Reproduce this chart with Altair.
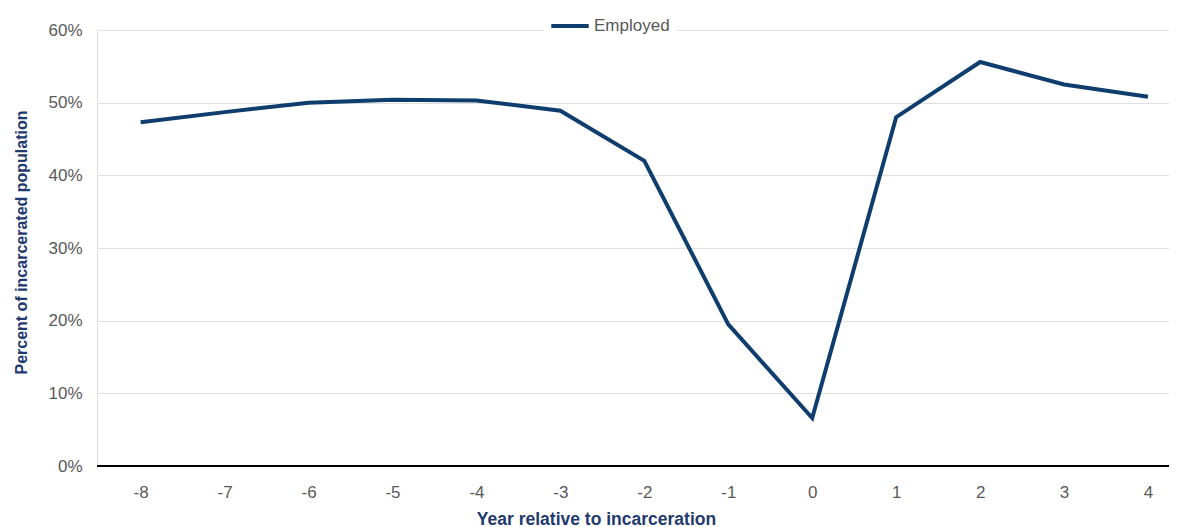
import altair as alt
import pandas as pd

years = [-8, -7, -6, -5, -4, -3, -2, -1, 0, 1, 2, 3, 4]
employed = [47.3, 48.7, 50.0, 50.4, 50.3, 48.9, 42.0, 19.5, 6.6, 48.0, 55.6, 52.5, 50.8]
series_name = "Employed"

df = pd.DataFrame({"year": years, "value": [v / 100 for v in employed], "series": series_name})

FONT = "Liberation Sans"
LINE = "#0f3d6e"
TITLE = "#1f3a6e"
GREY = "#595959"

line = alt.Chart(df).mark_line(strokeWidth=4, strokeJoin="miter", strokeCap="butt").encode(
    x=alt.X("year:Q",
            scale=alt.Scale(domain=[-8.52, 4.25], nice=False, zero=False),
            axis=alt.Axis(values=years, labelExpr="toString(datum.value)",
                          title="Year relative to incarceration",
                          grid=False, ticks=False, domain=False, labelPadding=18,
                          labelFontSize=17, labelColor=GREY, labelFont=FONT,
                          titleFont=FONT, titleFontSize=17.5, titleColor=TITLE,
                          titleFontWeight="bold", titleX=499, titleY=58,
                          titleBaseline="alphabetic", titleAlign="center")),
    y=alt.Y("value:Q",
            scale=alt.Scale(domain=[0, 0.6], nice=False),
            axis=alt.Axis(values=[0, 0.1, 0.2, 0.3, 0.4, 0.5, 0.6], format=".0%",
                          title="Percent of incarcerated population",
                          grid=True, gridColor="#e0e0e0", gridWidth=1,
                          ticks=False, domain=False, labelPadding=15,
                          labelFontSize=17, labelColor=GREY, labelFont=FONT,
                          titleFont=FONT, titleFontSize=16, titleColor=TITLE,
                          titleFontWeight="bold", titlePadding=18, titleY=212)),
    color=alt.Color("series:N", scale=alt.Scale(domain=[series_name], range=[LINE]),
                    legend=alt.Legend(title=None, orient="none", legendX=446, legendY=-31,
                                      symbolType="stroke", symbolStrokeWidth=4,
                                      symbolSize=1400, labelFontSize=17, labelFont=FONT,
                                      labelColor=GREY, fillColor="white", padding=6,
                                      labelOffset=3)),
)

zero = alt.Chart(pd.DataFrame({"z": [0]})).mark_rule(color="black", strokeWidth=2).encode(
    y="z:Q", x=alt.value(0), x2=alt.value(1072))

chart = alt.layer(line, zero).properties(
    width=1072, height=436, autosize="none",
    padding={"left": 89, "top": 22, "right": 0, "bottom": 64},
).configure_view(strokeWidth=0, stroke="transparent").configure(background="white")

chart.save("out.html", embed_options={"renderer": "svg", "actions": False})
